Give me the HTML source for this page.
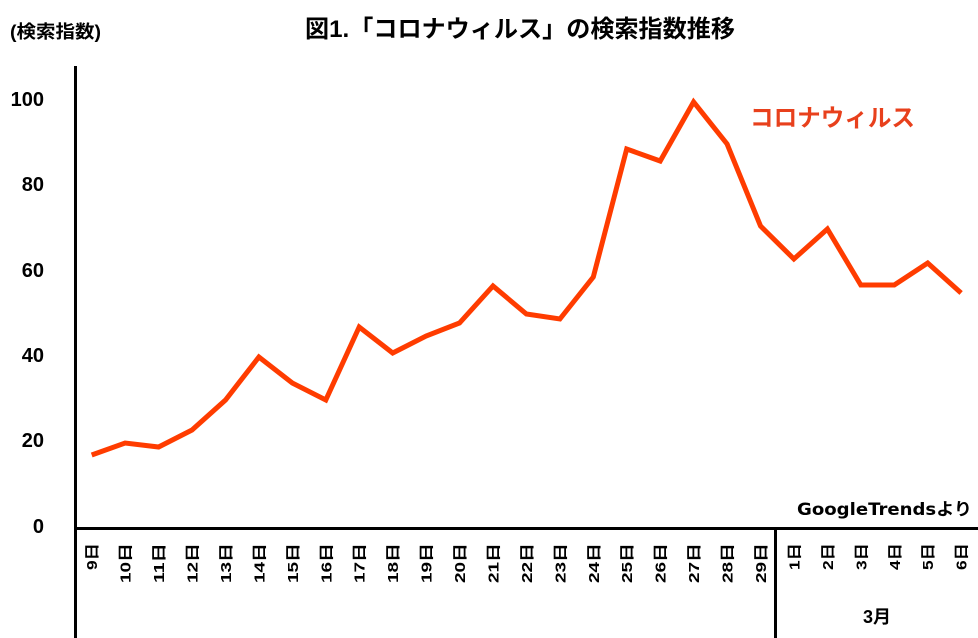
<!DOCTYPE html>
<html>
<head>
<meta charset="utf-8">
<style>
html,body{margin:0;padding:0;background:#fff;}
svg{display:block;}
</style>
</head>
<body>
<svg width="978" height="638" viewBox="0 0 978 638" xmlns="http://www.w3.org/2000/svg">
<rect width="978" height="638" fill="#fff"/>
<!-- title -->
<text x="305" y="37" font-family="Liberation Sans, Noto Sans CJK JP, sans-serif" font-weight="bold" font-size="24" textLength="430" lengthAdjust="spacingAndGlyphs" fill="#000">図1.「コロナウィルス」の検索指数推移</text>
<!-- y axis title -->
<text x="10" y="38" font-family="Liberation Sans, Noto Sans CJK JP, sans-serif" font-weight="bold" font-size="18" textLength="91" lengthAdjust="spacingAndGlyphs" fill="#000">(検索指数)</text>
<!-- y tick labels -->
<g font-family="Liberation Sans, sans-serif" font-weight="bold" font-size="20" fill="#000" text-anchor="end">
<text x="44" y="106">100</text>
<text x="44" y="191">80</text>
<text x="44" y="277">60</text>
<text x="44" y="362">40</text>
<text x="44" y="447">20</text>
<text x="44" y="533">0</text>
</g>
<!-- axes -->
<line x1="75.5" y1="66" x2="75.5" y2="638" stroke="#000" stroke-width="3"/>
<line x1="74" y1="528.5" x2="978" y2="528.5" stroke="#000" stroke-width="3"/>
<line x1="775.5" y1="528" x2="775.5" y2="638" stroke="#000" stroke-width="3"/>
<!-- series -->
<polyline fill="none" stroke="#ff3c00" stroke-width="5" stroke-linejoin="miter" stroke-miterlimit="4"
points="91.7,455 125.1,443 158.6,447 192.0,430 225.5,400 258.9,357 292.3,383 325.8,400 359.2,327 392.7,353 426.1,336 459.5,323 493.0,286 526.4,314 559.9,319 593.3,277 626.7,149 660.2,161 693.6,102 727.1,144 760.5,226 793.9,259 827.4,229 860.8,285 894.3,285 927.7,263 961.1,293"/>
<!-- series label -->
<text x="750" y="126" font-family="Liberation Sans, Noto Sans CJK JP, sans-serif" font-weight="bold" font-size="24" textLength="165" lengthAdjust="spacingAndGlyphs" fill="#e8401c">コロナウィルス</text>
<!-- source -->
<text x="797" y="515" font-family="DejaVu Sans, Noto Sans CJK JP, sans-serif" font-weight="bold" font-size="17" textLength="175" lengthAdjust="spacingAndGlyphs" fill="#000">GoogleTrendsより</text>
<!-- x labels -->
<g font-family="Liberation Sans, Noto Sans CJK JP, sans-serif" font-weight="bold" font-size="15" fill="#000" text-anchor="end">
<text transform="translate(97.2,543) rotate(-90)" textLength="27" lengthAdjust="spacingAndGlyphs">9日</text>
<text transform="translate(130.6,543) rotate(-90)" textLength="40" lengthAdjust="spacingAndGlyphs">10日</text>
<text transform="translate(164.1,543) rotate(-90)" textLength="40" lengthAdjust="spacingAndGlyphs">11日</text>
<text transform="translate(197.5,543) rotate(-90)" textLength="40" lengthAdjust="spacingAndGlyphs">12日</text>
<text transform="translate(231.0,543) rotate(-90)" textLength="40" lengthAdjust="spacingAndGlyphs">13日</text>
<text transform="translate(264.4,543) rotate(-90)" textLength="40" lengthAdjust="spacingAndGlyphs">14日</text>
<text transform="translate(297.8,543) rotate(-90)" textLength="40" lengthAdjust="spacingAndGlyphs">15日</text>
<text transform="translate(331.3,543) rotate(-90)" textLength="40" lengthAdjust="spacingAndGlyphs">16日</text>
<text transform="translate(364.7,543) rotate(-90)" textLength="40" lengthAdjust="spacingAndGlyphs">17日</text>
<text transform="translate(398.2,543) rotate(-90)" textLength="40" lengthAdjust="spacingAndGlyphs">18日</text>
<text transform="translate(431.6,543) rotate(-90)" textLength="40" lengthAdjust="spacingAndGlyphs">19日</text>
<text transform="translate(465.0,543) rotate(-90)" textLength="40" lengthAdjust="spacingAndGlyphs">20日</text>
<text transform="translate(498.5,543) rotate(-90)" textLength="40" lengthAdjust="spacingAndGlyphs">21日</text>
<text transform="translate(531.9,543) rotate(-90)" textLength="40" lengthAdjust="spacingAndGlyphs">22日</text>
<text transform="translate(565.4,543) rotate(-90)" textLength="40" lengthAdjust="spacingAndGlyphs">23日</text>
<text transform="translate(598.8,543) rotate(-90)" textLength="40" lengthAdjust="spacingAndGlyphs">24日</text>
<text transform="translate(632.2,543) rotate(-90)" textLength="40" lengthAdjust="spacingAndGlyphs">25日</text>
<text transform="translate(665.7,543) rotate(-90)" textLength="40" lengthAdjust="spacingAndGlyphs">26日</text>
<text transform="translate(699.1,543) rotate(-90)" textLength="40" lengthAdjust="spacingAndGlyphs">27日</text>
<text transform="translate(732.6,543) rotate(-90)" textLength="40" lengthAdjust="spacingAndGlyphs">28日</text>
<text transform="translate(766.0,543) rotate(-90)" textLength="40" lengthAdjust="spacingAndGlyphs">29日</text>
<text transform="translate(799.4,543) rotate(-90)" textLength="27" lengthAdjust="spacingAndGlyphs">1日</text>
<text transform="translate(832.9,543) rotate(-90)" textLength="27" lengthAdjust="spacingAndGlyphs">2日</text>
<text transform="translate(866.3,543) rotate(-90)" textLength="27" lengthAdjust="spacingAndGlyphs">3日</text>
<text transform="translate(899.8,543) rotate(-90)" textLength="27" lengthAdjust="spacingAndGlyphs">4日</text>
<text transform="translate(933.2,543) rotate(-90)" textLength="27" lengthAdjust="spacingAndGlyphs">5日</text>
<text transform="translate(966.6,543) rotate(-90)" textLength="27" lengthAdjust="spacingAndGlyphs">6日</text>
</g>
<!-- month label -->
<text x="877" y="623" font-family="Liberation Sans, Noto Sans CJK JP, sans-serif" font-weight="bold" font-size="18" text-anchor="middle" fill="#000">3月</text>
</svg>
</body>
</html>
